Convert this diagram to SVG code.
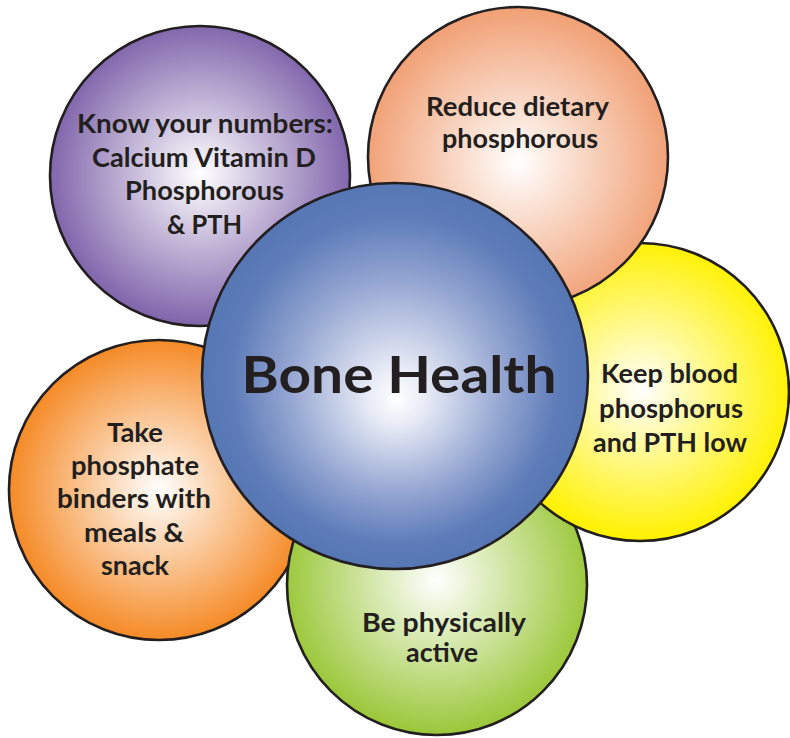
<svg xmlns="http://www.w3.org/2000/svg" width="790" height="738" viewBox="0 0 790 738">
  <style>
    .c { stroke: #231f20; stroke-width: 2.6; }
    .t { font-family: Lato, "Open Sans", "Liberation Sans", sans-serif; font-weight: 700; font-size: 26px; fill: #231f20; text-anchor: middle; }
    .big { font-size: 52px; }
  </style>
  <defs>
    <radialGradient id="gOrange" gradientUnits="userSpaceOnUse" cx="159" cy="490" r="150">
      <stop offset="0" stop-color="#ffffff"/>
      <stop offset="1" stop-color="#f58a26"/>
    </radialGradient>
    <radialGradient id="gGreen" gradientUnits="userSpaceOnUse" cx="437" cy="580" r="152">
      <stop offset="0" stop-color="#ffffff"/>
      <stop offset="1" stop-color="#9cc83c"/>
    </radialGradient>
    <radialGradient id="gYellow" gradientUnits="userSpaceOnUse" cx="642" cy="390" r="150">
      <stop offset="0" stop-color="#ffffff"/>
      <stop offset="1" stop-color="#fff100"/>
    </radialGradient>
    <radialGradient id="gPeach" gradientUnits="userSpaceOnUse" cx="518" cy="162" r="152">
      <stop offset="0" stop-color="#ffffff"/>
      <stop offset="1" stop-color="#f1a176"/>
    </radialGradient>
    <radialGradient id="gPurple" gradientUnits="userSpaceOnUse" cx="200" cy="174" r="150">
      <stop offset="0" stop-color="#ffffff"/>
      <stop offset="1" stop-color="#8166ac"/>
    </radialGradient>
    <radialGradient id="gBlue" gradientUnits="userSpaceOnUse" cx="395" cy="376" r="193" fx="397" fy="400">
      <stop offset="0" stop-color="#ffffff"/>
      <stop offset="0.15" stop-color="#e8ebf6"/>
      <stop offset="0.55" stop-color="#95a6d2"/>
      <stop offset="0.85" stop-color="#5d7cb9"/>
      <stop offset="1" stop-color="#5676b4"/>
    </radialGradient>
  </defs>

  <g id="connectors"/>

  <g id="node-binders">
    <circle class="c" cx="159" cy="490" r="150" fill="url(#gOrange)"/>
    <text class="t" x="135" y="442" textLength="56" lengthAdjust="spacingAndGlyphs">Take</text>
    <text class="t" x="135" y="475" textLength="128" lengthAdjust="spacingAndGlyphs">phosphate</text>
    <text class="t" x="134" y="508" textLength="154" lengthAdjust="spacingAndGlyphs">binders with</text>
    <text class="t" x="134" y="542" textLength="100" lengthAdjust="spacingAndGlyphs">meals &amp;</text>
    <text class="t" x="135" y="575" textLength="68" lengthAdjust="spacingAndGlyphs">snack</text>
  </g>

  <g id="node-active">
    <circle class="c" cx="437" cy="585" r="150" fill="url(#gGreen)"/>
    <text class="t" x="444" y="632" textLength="164" lengthAdjust="spacingAndGlyphs">Be physically</text>
    <text class="t" x="442" y="662" textLength="72" lengthAdjust="spacingAndGlyphs">active</text>
  </g>

  <g id="node-blood">
    <circle class="c" cx="640" cy="392" r="149" fill="url(#gYellow)"/>
    <text class="t" x="669.5" y="383" textLength="137" lengthAdjust="spacingAndGlyphs">Keep blood</text>
    <text class="t" x="671" y="418" textLength="144" lengthAdjust="spacingAndGlyphs">phosphorus</text>
    <text class="t" x="670" y="452" textLength="154" lengthAdjust="spacingAndGlyphs">and PTH low</text>
  </g>

  <g id="node-diet">
    <circle class="c" cx="518" cy="157" r="150" fill="url(#gPeach)"/>
    <text class="t" x="517.5" y="116" textLength="183" lengthAdjust="spacingAndGlyphs">Reduce dietary</text>
    <text class="t" x="520" y="148" textLength="156" lengthAdjust="spacingAndGlyphs">phosphorous</text>
  </g>

  <g id="node-numbers">
    <circle class="c" cx="200" cy="176" r="150" fill="url(#gPurple)"/>
    <text class="t" x="205" y="132.5" textLength="256" lengthAdjust="spacingAndGlyphs">Know your numbers:</text>
    <text class="t" x="204" y="166.5" textLength="224" lengthAdjust="spacingAndGlyphs">Calcium Vitamin D</text>
    <text class="t" x="204.5" y="200" textLength="159" lengthAdjust="spacingAndGlyphs">Phosphorous</text>
    <text class="t" x="204.5" y="234" textLength="75" lengthAdjust="spacingAndGlyphs">&amp; PTH</text>
  </g>

  <g id="node-bone-health">
    <circle class="c" cx="395" cy="376" r="193" fill="url(#gBlue)"/>
    <text class="t big" x="399" y="393" textLength="315" lengthAdjust="spacingAndGlyphs">Bone Health</text>
  </g>
</svg>
